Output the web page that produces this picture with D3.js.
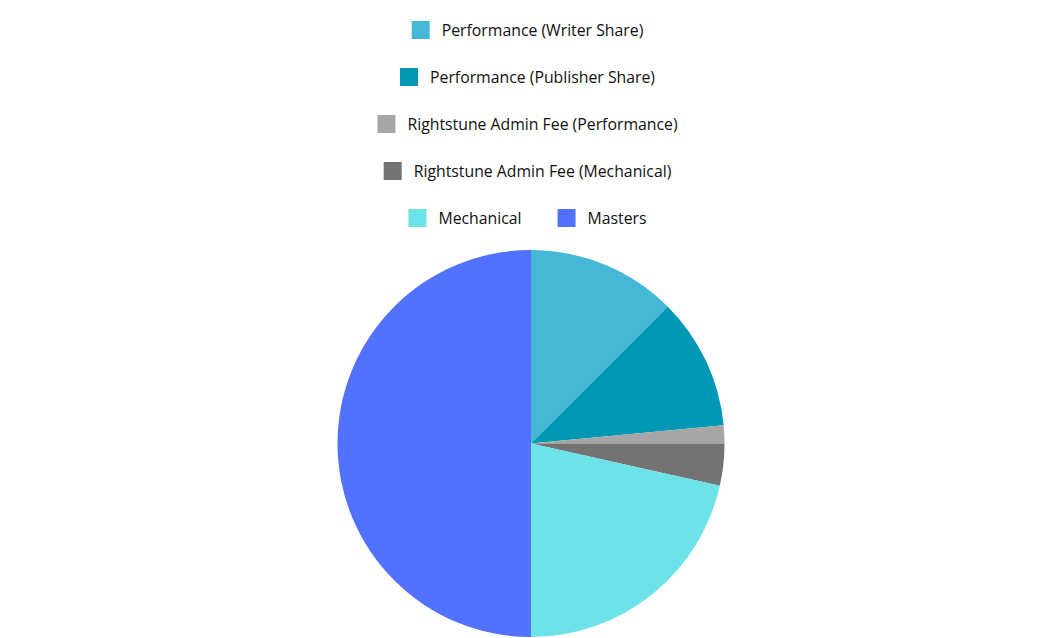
<!DOCTYPE html>
<html><head><meta charset="utf-8">
<script src="https://cdn.jsdelivr.net/npm/d3@7"></script>
<style>body{margin:0;background:#fff;}svg{display:block;}</style>
</head><body>
<svg id="chart" width="1063" height="638"></svg>
<script>
const categories = ["Performance (Writer Share)","Performance (Publisher Share)","Rightstune Admin Fee (Performance)","Rightstune Admin Fee (Mechanical)","Mechanical","Masters"];
const values = [12.5, 11, 1.5, 3.5, 21.5, 50];
const colors = ["#45B8D8","#0098B5","#A6A6A6","#737373","#6BE3E8","#5271FF"];
const legendRows = [[0],[1],[2],[3],[4,5]];

const svg = d3.select("#chart");
const cx = 531, cy = 443.5, r = 193.5;
const data = categories.map((c,i)=>({name:c, value:values[i], color:colors[i]}));
const pie = d3.pie().value(d=>d.value).sort(null);
const arc = d3.arc().innerRadius(0).outerRadius(r);
svg.append("g").attr("transform",`translate(${cx},${cy})`)
  .selectAll("path").data(pie(data)).join("path")
  .attr("d",arc).attr("fill",d=>d.data.color);

const font = "'Open Sans', sans-serif";
const fs = 15.8, sw = 18, gap = 12, itemGap = 36;
const legendCx = 527.5;
const rowY = [30,77,124,171,218];
const lg = svg.append("g");
legendRows.forEach((row,ri)=>{
  const g = lg.append("g");
  let x = 0;
  row.forEach((idx,k)=>{
    const it = g.append("g").attr("transform",`translate(${x},0)`);
    it.append("rect").attr("x",0).attr("y",-sw/2).attr("width",sw).attr("height",sw).attr("fill",colors[idx]);
    const t = it.append("text").attr("x",sw+gap).attr("y",0).attr("dy","0.35em")
      .attr("font-family",font).attr("font-size",fs).attr("fill","#111").text(categories[idx]);
    x += sw+gap+t.node().getComputedTextLength() + itemGap;
  });
  const w = x - itemGap;
  g.attr("transform",`translate(${legendCx - w/2},${rowY[ri]})`);
});
</script>
</body></html>
